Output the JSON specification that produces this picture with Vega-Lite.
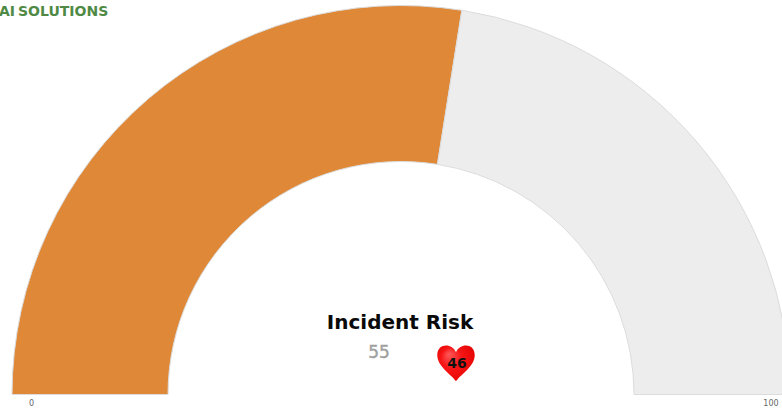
{
"$schema":"https://vega.github.io/schema/vega-lite/v6.json",
"width":782,"height":409,"padding":0,"autosize":{"type":"none"},
"background":"white",
"config":{"view":{"stroke":null}},
"layer":[
{"data":{"values":[{"segment":"Incident Risk","start":0,"end":55},{"segment":"Remainder","start":55,"end":100}]},
 "mark":{"type":"arc","x":401,"y":394.5,"radius":389,"radius2":233,"stroke":"#dcdcdc","strokeWidth":1},
 "encoding":{
  "theta":{"field":"start","type":"quantitative","scale":{"domain":[0,100],"range":[-1.5708,1.5708]}},
  "theta2":{"field":"end"},
  "color":{"field":"segment","type":"nominal","legend":null,"scale":{"domain":["Incident Risk","Remainder"],"range":["#DE8838","#EDEDED"]}}
 }},
{"data":{"values":[{"label":"Incident Risk"}]},
 "mark":{"type":"text","x":400,"y":323,"font":"DejaVu Sans","fontWeight":"bold","fontSize":20,"fill":"#0a0a0a","align":"center","baseline":"middle"},
 "encoding":{"text":{"field":"label"}}},
{"data":{"values":[{"label":"55"}]},
 "mark":{"type":"text","x":379,"y":353,"font":"DejaVu Sans","fontSize":17,"fill":"#a0a0a0","stroke":"#a0a0a0","strokeWidth":0.4,"align":"center","baseline":"middle"},
 "encoding":{"text":{"field":"label"}}},
{"data":{"values":[{"label":"Heart"}]},
 "mark":{"type":"point","x":456,"y":362.5,"filled":true,"opacity":1,"size":1400,"strokeWidth":0,
  "shape":"M0,-0.55 C-0.2,-1.05 -1,-1.05 -1,-0.4 C-1,0.2 -0.35,0.55 0,1 C0.35,0.55 1,0.2 1,-0.4 C1,-1.05 0.2,-1.05 0,-0.55 Z",
  "fill":{"gradient":"radial","x1":0.3,"y1":0.25,"r1":0,"x2":0.5,"y2":0.5,"r2":0.7,"stops":[{"offset":0,"color":"#ff5a5a"},{"offset":0.4,"color":"#f71515"},{"offset":1,"color":"#e00000"}]}},
 "encoding":{}},
{"data":{"values":[{"label":"46"}]},
 "mark":{"type":"text","x":457,"y":364,"font":"DejaVu Sans","fontWeight":"bold","fontSize":14,"fill":"#111111","align":"center","baseline":"middle"},
 "encoding":{"text":{"field":"label"}}},
{"data":{"values":[{"label":"0"}]},
 "mark":{"type":"text","x":31.5,"y":404,"font":"DejaVu Sans","fontSize":8,"fill":"#666666","align":"center","baseline":"middle"},
 "encoding":{"text":{"field":"label"}}},
{"data":{"values":[{"label":"100"}]},
 "mark":{"type":"text","x":771,"y":404,"font":"DejaVu Sans","fontSize":8,"fill":"#666666","align":"center","baseline":"middle"},
 "encoding":{"text":{"field":"label"}}},
{"data":{"values":[{"label":"AI"}]},
 "mark":{"type":"text","x":-1,"y":16,"font":"DejaVu Sans","fontWeight":"bold","fontSize":14,"fill":"#4f8a45","align":"left","baseline":"alphabetic"},
 "encoding":{"text":{"field":"label"}}},
{"data":{"values":[{"label":"SOLUTIONS"}]},
 "mark":{"type":"text","x":18,"y":16,"font":"DejaVu Sans","fontWeight":"bold","fontSize":14,"fill":"#4f8a45","align":"left","baseline":"alphabetic"},
 "encoding":{"text":{"field":"label"}}}
]
}
